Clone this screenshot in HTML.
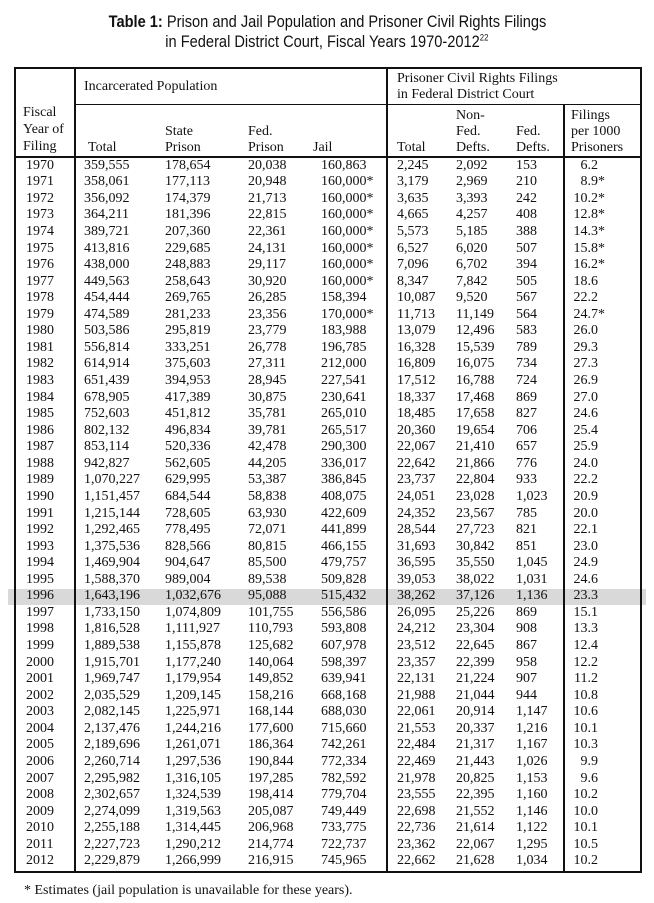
<!DOCTYPE html>
<html><head><meta charset="utf-8"><style>
*{margin:0;padding:0}
body{width:654px;height:903px;background:#fff;position:relative;overflow:hidden;font-family:"Liberation Serif",serif;font-size:14px;color:#111}
.t{position:absolute;left:0;width:654px;text-align:center;font-family:"Liberation Sans",sans-serif;font-size:17px;white-space:nowrap}
.t span.in{display:inline-block;transform:scaleX(0.86)}
.l{position:absolute;background:#111}
.h{position:absolute;white-space:nowrap;line-height:16px}
#rows{position:absolute;left:0;top:157.7px;width:654px}
.r{position:relative;height:16.57px;line-height:16.57px;white-space:nowrap}
.r span{position:absolute}
.r span:nth-child(1){left:26px}
.r span:nth-child(2){left:84px}
.r span:nth-child(3){left:165px}
.r span:nth-child(4){left:248px}
.r span:nth-child(5){left:321px}
.r span:nth-child(6){left:397px}
.r span:nth-child(7){left:456px}
.r span:nth-child(8){left:516px}
.r span:nth-child(9){right:56px}
.r span:nth-child(10){left:598px}
</style></head><body>
<div class="t" style="top:12px"><span class="in"><b>Table 1:</b> Prison and Jail Population and Prisoner Civil Rights Filings</span></div>
<div class="t" style="top:32px"><span class="in">in Federal District Court, Fiscal Years 1970-2012<sup style="font-size:9px">22</sup></span></div>
<div style="position:absolute;left:8px;top:588.6px;width:638px;height:16.6px;background:#d9d9d9"></div>
<div class="l" style="left:14px;top:67px;width:628px;height:2px"></div>
<div class="l" style="left:14px;top:67px;width:2px;height:806px"></div>
<div class="l" style="left:640px;top:67px;width:2px;height:806px"></div>
<div class="l" style="left:14px;top:871px;width:628px;height:2px"></div>
<div class="l" style="left:74px;top:67px;width:1.5px;height:806px"></div>
<div class="l" style="left:386px;top:67px;width:1.5px;height:806px"></div>
<div class="l" style="left:563px;top:104px;width:1.5px;height:769px"></div>
<div class="l" style="left:74px;top:103.5px;width:568px;height:1.5px"></div>
<div class="l" style="left:14px;top:156px;width:628px;height:2px"></div>
<div class="h" style="left:84px;top:79px">Incarcerated Population</div>
<div class="h" style="left:397px;top:71px">Prisoner Civil Rights Filings</div>
<div class="h" style="left:397px;top:87px">in Federal District Court</div>
<div class="h" style="left:23px;top:105px">Fiscal</div>
<div class="h" style="left:23px;top:122px">Year of</div>
<div class="h" style="left:23px;top:139px">Filing</div>
<div class="h" style="left:88px;top:140px">Total</div>
<div class="h" style="left:165px;top:124px">State</div>
<div class="h" style="left:165px;top:140px">Prison</div>
<div class="h" style="left:248px;top:124px">Fed.</div>
<div class="h" style="left:248px;top:140px">Prison</div>
<div class="h" style="left:313px;top:140px">Jail</div>
<div class="h" style="left:397px;top:140px">Total</div>
<div class="h" style="left:456px;top:108px">Non-</div>
<div class="h" style="left:456px;top:124px">Fed.</div>
<div class="h" style="left:456px;top:140px">Defts.</div>
<div class="h" style="left:516px;top:124px">Fed.</div>
<div class="h" style="left:516px;top:140px">Defts.</div>
<div class="h" style="left:571px;top:108px">Filings</div>
<div class="h" style="left:571px;top:124px">per 1000</div>
<div class="h" style="left:571px;top:140px">Prisoners</div>
<div id="rows">
<div class="r"><span>1970</span><span>359,555</span><span>178,654</span><span>20,038</span><span>160,863</span><span>2,245</span><span>2,092</span><span>153</span><span>6.2</span></div>
<div class="r"><span>1971</span><span>358,061</span><span>177,113</span><span>20,948</span><span>160,000*</span><span>3,179</span><span>2,969</span><span>210</span><span>8.9</span><span>*</span></div>
<div class="r"><span>1972</span><span>356,092</span><span>174,379</span><span>21,713</span><span>160,000*</span><span>3,635</span><span>3,393</span><span>242</span><span>10.2</span><span>*</span></div>
<div class="r"><span>1973</span><span>364,211</span><span>181,396</span><span>22,815</span><span>160,000*</span><span>4,665</span><span>4,257</span><span>408</span><span>12.8</span><span>*</span></div>
<div class="r"><span>1974</span><span>389,721</span><span>207,360</span><span>22,361</span><span>160,000*</span><span>5,573</span><span>5,185</span><span>388</span><span>14.3</span><span>*</span></div>
<div class="r"><span>1975</span><span>413,816</span><span>229,685</span><span>24,131</span><span>160,000*</span><span>6,527</span><span>6,020</span><span>507</span><span>15.8</span><span>*</span></div>
<div class="r"><span>1976</span><span>438,000</span><span>248,883</span><span>29,117</span><span>160,000*</span><span>7,096</span><span>6,702</span><span>394</span><span>16.2</span><span>*</span></div>
<div class="r"><span>1977</span><span>449,563</span><span>258,643</span><span>30,920</span><span>160,000*</span><span>8,347</span><span>7,842</span><span>505</span><span>18.6</span></div>
<div class="r"><span>1978</span><span>454,444</span><span>269,765</span><span>26,285</span><span>158,394</span><span>10,087</span><span>9,520</span><span>567</span><span>22.2</span></div>
<div class="r"><span>1979</span><span>474,589</span><span>281,233</span><span>23,356</span><span>170,000*</span><span>11,713</span><span>11,149</span><span>564</span><span>24.7</span><span>*</span></div>
<div class="r"><span>1980</span><span>503,586</span><span>295,819</span><span>23,779</span><span>183,988</span><span>13,079</span><span>12,496</span><span>583</span><span>26.0</span></div>
<div class="r"><span>1981</span><span>556,814</span><span>333,251</span><span>26,778</span><span>196,785</span><span>16,328</span><span>15,539</span><span>789</span><span>29.3</span></div>
<div class="r"><span>1982</span><span>614,914</span><span>375,603</span><span>27,311</span><span>212,000</span><span>16,809</span><span>16,075</span><span>734</span><span>27.3</span></div>
<div class="r"><span>1983</span><span>651,439</span><span>394,953</span><span>28,945</span><span>227,541</span><span>17,512</span><span>16,788</span><span>724</span><span>26.9</span></div>
<div class="r"><span>1984</span><span>678,905</span><span>417,389</span><span>30,875</span><span>230,641</span><span>18,337</span><span>17,468</span><span>869</span><span>27.0</span></div>
<div class="r"><span>1985</span><span>752,603</span><span>451,812</span><span>35,781</span><span>265,010</span><span>18,485</span><span>17,658</span><span>827</span><span>24.6</span></div>
<div class="r"><span>1986</span><span>802,132</span><span>496,834</span><span>39,781</span><span>265,517</span><span>20,360</span><span>19,654</span><span>706</span><span>25.4</span></div>
<div class="r"><span>1987</span><span>853,114</span><span>520,336</span><span>42,478</span><span>290,300</span><span>22,067</span><span>21,410</span><span>657</span><span>25.9</span></div>
<div class="r"><span>1988</span><span>942,827</span><span>562,605</span><span>44,205</span><span>336,017</span><span>22,642</span><span>21,866</span><span>776</span><span>24.0</span></div>
<div class="r"><span>1989</span><span>1,070,227</span><span>629,995</span><span>53,387</span><span>386,845</span><span>23,737</span><span>22,804</span><span>933</span><span>22.2</span></div>
<div class="r"><span>1990</span><span>1,151,457</span><span>684,544</span><span>58,838</span><span>408,075</span><span>24,051</span><span>23,028</span><span>1,023</span><span>20.9</span></div>
<div class="r"><span>1991</span><span>1,215,144</span><span>728,605</span><span>63,930</span><span>422,609</span><span>24,352</span><span>23,567</span><span>785</span><span>20.0</span></div>
<div class="r"><span>1992</span><span>1,292,465</span><span>778,495</span><span>72,071</span><span>441,899</span><span>28,544</span><span>27,723</span><span>821</span><span>22.1</span></div>
<div class="r"><span>1993</span><span>1,375,536</span><span>828,566</span><span>80,815</span><span>466,155</span><span>31,693</span><span>30,842</span><span>851</span><span>23.0</span></div>
<div class="r"><span>1994</span><span>1,469,904</span><span>904,647</span><span>85,500</span><span>479,757</span><span>36,595</span><span>35,550</span><span>1,045</span><span>24.9</span></div>
<div class="r"><span>1995</span><span>1,588,370</span><span>989,004</span><span>89,538</span><span>509,828</span><span>39,053</span><span>38,022</span><span>1,031</span><span>24.6</span></div>
<div class="r"><span>1996</span><span>1,643,196</span><span>1,032,676</span><span>95,088</span><span>515,432</span><span>38,262</span><span>37,126</span><span>1,136</span><span>23.3</span></div>
<div class="r"><span>1997</span><span>1,733,150</span><span>1,074,809</span><span>101,755</span><span>556,586</span><span>26,095</span><span>25,226</span><span>869</span><span>15.1</span></div>
<div class="r"><span>1998</span><span>1,816,528</span><span>1,111,927</span><span>110,793</span><span>593,808</span><span>24,212</span><span>23,304</span><span>908</span><span>13.3</span></div>
<div class="r"><span>1999</span><span>1,889,538</span><span>1,155,878</span><span>125,682</span><span>607,978</span><span>23,512</span><span>22,645</span><span>867</span><span>12.4</span></div>
<div class="r"><span>2000</span><span>1,915,701</span><span>1,177,240</span><span>140,064</span><span>598,397</span><span>23,357</span><span>22,399</span><span>958</span><span>12.2</span></div>
<div class="r"><span>2001</span><span>1,969,747</span><span>1,179,954</span><span>149,852</span><span>639,941</span><span>22,131</span><span>21,224</span><span>907</span><span>11.2</span></div>
<div class="r"><span>2002</span><span>2,035,529</span><span>1,209,145</span><span>158,216</span><span>668,168</span><span>21,988</span><span>21,044</span><span>944</span><span>10.8</span></div>
<div class="r"><span>2003</span><span>2,082,145</span><span>1,225,971</span><span>168,144</span><span>688,030</span><span>22,061</span><span>20,914</span><span>1,147</span><span>10.6</span></div>
<div class="r"><span>2004</span><span>2,137,476</span><span>1,244,216</span><span>177,600</span><span>715,660</span><span>21,553</span><span>20,337</span><span>1,216</span><span>10.1</span></div>
<div class="r"><span>2005</span><span>2,189,696</span><span>1,261,071</span><span>186,364</span><span>742,261</span><span>22,484</span><span>21,317</span><span>1,167</span><span>10.3</span></div>
<div class="r"><span>2006</span><span>2,260,714</span><span>1,297,536</span><span>190,844</span><span>772,334</span><span>22,469</span><span>21,443</span><span>1,026</span><span>9.9</span></div>
<div class="r"><span>2007</span><span>2,295,982</span><span>1,316,105</span><span>197,285</span><span>782,592</span><span>21,978</span><span>20,825</span><span>1,153</span><span>9.6</span></div>
<div class="r"><span>2008</span><span>2,302,657</span><span>1,324,539</span><span>198,414</span><span>779,704</span><span>23,555</span><span>22,395</span><span>1,160</span><span>10.2</span></div>
<div class="r"><span>2009</span><span>2,274,099</span><span>1,319,563</span><span>205,087</span><span>749,449</span><span>22,698</span><span>21,552</span><span>1,146</span><span>10.0</span></div>
<div class="r"><span>2010</span><span>2,255,188</span><span>1,314,445</span><span>206,968</span><span>733,775</span><span>22,736</span><span>21,614</span><span>1,122</span><span>10.1</span></div>
<div class="r"><span>2011</span><span>2,227,723</span><span>1,290,212</span><span>214,774</span><span>722,737</span><span>23,362</span><span>22,067</span><span>1,295</span><span>10.5</span></div>
<div class="r"><span>2012</span><span>2,229,879</span><span>1,266,999</span><span>216,915</span><span>745,965</span><span>22,662</span><span>21,628</span><span>1,034</span><span>10.2</span></div>
</div>
<div class="h" style="left:24px;top:883px">* Estimates (jail population is unavailable for these years).</div>
</body></html>
